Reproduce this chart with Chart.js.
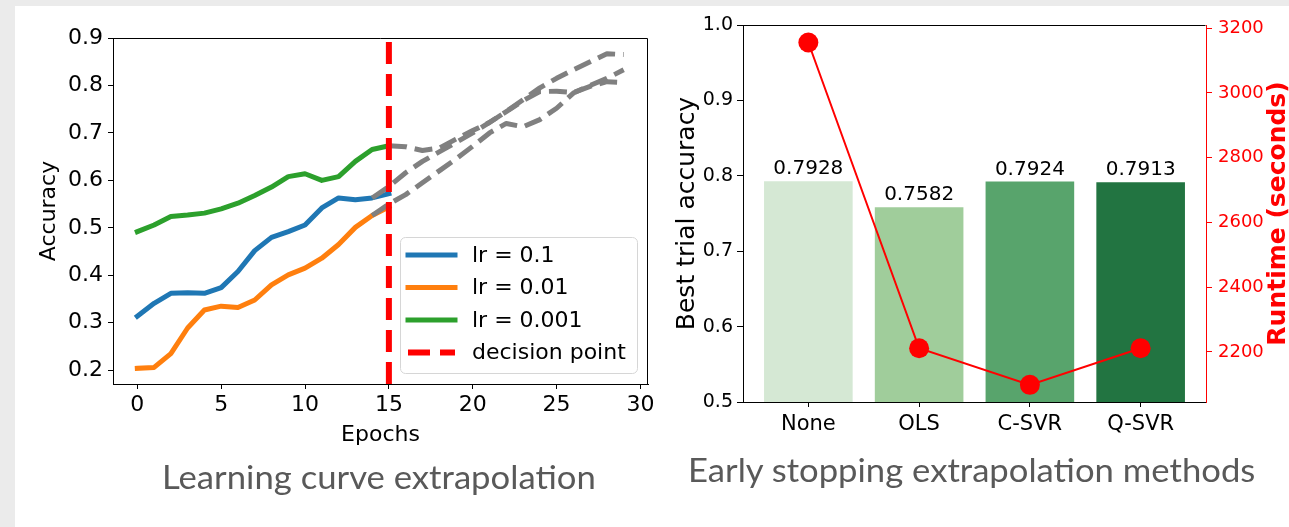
<!DOCTYPE html>
<html>
<head>
<meta charset="utf-8">
<script src="https://cdn.jsdelivr.net/npm/chart.js@4.4.1/dist/chart.umd.min.js"></script>
<style>
  html, body { margin: 0; padding: 0; background: #fff; }
  body { width: 1289px; height: 527px; position: relative; overflow: hidden; }
  #frameTop { position: absolute; left: 0; top: 0; width: 1289px; height: 6px; background: #ebebeb; }
  #frameLeft { position: absolute; left: 0; top: 0; width: 15px; height: 527px; background: #ebebeb; }
  #leftChart { position: absolute; left: 0; top: 0; }
  #rightChart { position: absolute; left: 660px; top: 0; }
  .caption { position: absolute; font-family: Lato, "Open Sans", sans-serif; color: #595959;
             font-size: 33px; white-space: nowrap; transform-origin: 0 0; line-height: 1; }
</style>
</head>
<body>
<div id="frameTop"></div>
<div id="frameLeft"></div>
<canvas id="leftChart" width="660" height="460"></canvas>
<canvas id="rightChart" width="640" height="460"></canvas>
<div class="caption" id="capLeft" data-w="434">Learning curve extrapolation</div>
<div class="caption" id="capRight" data-w="567">Early stopping extrapolation methods</div>

<script>
// ---- data: learning curves (left) ----
const epochs = [0, 1, 2, 3, 4, 5, 6, 7, 8, 9, 10, 11, 12, 13, 14, 15];
const accLr01 = [0.314, 0.341, 0.362, 0.363, 0.362, 0.374, 0.408, 0.452, 0.480, 0.492, 0.506, 0.542, 0.563, 0.559, 0.563, 0.572];
const accLr001 = [0.204, 0.206, 0.235, 0.289, 0.327, 0.335, 0.332, 0.348, 0.380, 0.401, 0.415, 0.436, 0.465, 0.501, 0.526, 0.544];
const accLr0001 = [0.492, 0.506, 0.524, 0.527, 0.531, 0.540, 0.552, 0.568, 0.586, 0.608, 0.614, 0.600, 0.608, 0.640, 0.665, 0.673];

// extrapolated curves (gray dashed)
const extEpochsA = [15, 16, 17, 18, 19, 20, 21, 22, 23, 24, 25, 26, 27, 28, 29];
const extLr0001 = [0.673, 0.671, 0.663, 0.668, 0.687, 0.705, 0.722, 0.745, 0.770, 0.795, 0.815, 0.833, 0.850, 0.867, 0.865];
const extEpochsB = [14, 15, 16, 17, 18, 19, 20, 21, 22, 23, 24, 25, 26, 27, 28, 29];
const extLr01 = [0.563, 0.587, 0.616, 0.640, 0.660, 0.680, 0.700, 0.722, 0.745, 0.768, 0.787, 0.788, 0.785, 0.798, 0.808, 0.806];
const extLr001 = [0.526, 0.550, 0.570, 0.595, 0.620, 0.645, 0.672, 0.700, 0.720, 0.713, 0.728, 0.752, 0.784, 0.800, 0.815, 0.833];

const decisionEpoch = 15;
const epochTicks = [0, 5, 10, 15, 20, 25, 30];
const accTicks = [0.2, 0.3, 0.4, 0.5, 0.6, 0.7, 0.8, 0.9];
const accMin = 0.171, accMax = 0.900;

// ---- data: extrapolation methods (right) ----
const methods = ['None', 'OLS', 'C-SVR', 'Q-SVR'];
const bestAcc = [0.7928, 0.7582, 0.7924, 0.7913];
const runtimeSec = [3156, 2211, 2098, 2211];
const bestAccTicks = [0.5, 0.6, 0.7, 0.8, 0.9, 1.0];
const runtimeTicks = [2200, 2400, 2600, 2800, 3000, 3200];
const barColors = ['#d5e8d4', '#a0cd9b', '#58a46c', '#227441'];

Chart.defaults.font.family = '"DejaVu Sans"';
Chart.defaults.color = '#000';

function pts(xs, ys) {
  return xs.map((x, i) => ({ x: x, y: ys[i] }));
}

// draws the top / right spines like matplotlib
const framePlugin = {
  id: 'frame',
  afterDraw(chart, args, opts) {
    const a = chart.chartArea;
    const ctx = chart.ctx;
    ctx.save();
    ctx.strokeStyle = '#000';
    ctx.lineWidth = 1;
    ctx.beginPath();
    const t = Math.round(a.top) + 0.5, r = Math.round(a.right) - 0.5;
    ctx.moveTo(Math.round(a.left), t);
    ctx.lineTo(r, t);
    if (opts.right) ctx.lineTo(r, Math.round(a.bottom));
    ctx.stroke();
    ctx.restore();
  }
};

// legend box in the lower right corner of the axes
const boxLegend = {
  id: 'boxLegend',
  afterDraw(chart) {
    const ctx = chart.ctx;
    const a = chart.chartArea;
    const items = chart.data.datasets.filter(d => d.label);
    const w = 237, h = 136;
    const x0 = a.right - 11 - w, y0 = a.bottom - 11 - h;
    ctx.save();
    ctx.beginPath();
    ctx.roundRect(x0 + 0.5, y0 + 0.5, w, h, 5);
    ctx.fillStyle = 'rgba(255,255,255,0.8)';
    ctx.fill();
    ctx.strokeStyle = '#d6d6d6';
    ctx.lineWidth = 1;
    ctx.stroke();
    items.forEach((d, i) => {
      const y = y0 + 18 + i * 32.5;
      ctx.beginPath();
      ctx.strokeStyle = d.borderColor;
      ctx.lineWidth = d.borderWidth;
      ctx.setLineDash(d.borderDash || []);
      ctx.lineCap = d.borderDash ? 'butt' : 'square';
      ctx.moveTo(x0 + 8, y);
      ctx.lineTo(x0 + 55, y);
      ctx.stroke();
      ctx.setLineDash([]);
      ctx.fillStyle = '#000';
      ctx.font = '22px "DejaVu Sans"';
      ctx.textBaseline = 'middle';
      ctx.fillText(d.label, x0 + 72, y + 1);
    });
    ctx.restore();
  }
};

function curve(label, xs, ys, color) {
  return {
    label: label, data: pts(xs, ys), borderColor: color, borderWidth: 5,
    pointRadius: 0, tension: 0, borderCapStyle: 'square', borderJoinStyle: 'round', order: 2
  };
}
function extCurve(xs, ys) {
  return {
    label: '', data: pts(xs, ys), borderColor: '#808080', borderWidth: 5, borderDash: [18, 8],
    pointRadius: 0, tension: 0, borderCapStyle: 'butt', borderJoinStyle: 'round', order: 1
  };
}

new Chart(document.getElementById('leftChart'), {
  type: 'line',
  data: {
    datasets: [
      curve('lr = 0.1', epochs, accLr01, '#1f77b4'),
      curve('lr = 0.01', epochs, accLr001, '#ff7f0e'),
      curve('lr = 0.001', epochs, accLr0001, '#2ca02c'),
      {
        label: 'decision point',
        data: [{ x: decisionEpoch, y: accMin }, { x: decisionEpoch, y: accMax }],
        borderColor: '#ff0000', borderWidth: 6, borderDash: [22, 10],
        pointRadius: 0, borderCapStyle: 'butt', order: 0
      },
      extCurve(extEpochsA, extLr0001),
      extCurve(extEpochsB, extLr01),
      extCurve(extEpochsB, extLr001)
    ]
  },
  options: {
    responsive: false,
    animation: false,
    layout: { padding: { top: 38, right: 12, left: 0, bottom: 0 } },
    plugins: { legend: { display: false }, tooltip: { enabled: false }, frame: { right: true } },
    scales: {
      x: {
        type: 'linear', min: -1.45, max: 30.45,
        afterBuildTicks: s => { s.ticks = epochTicks.map(v => ({ value: v })); },
        afterFit: s => { s.height = 76; },
        ticks: { font: { size: 22 }, color: '#000', padding: 3, maxRotation: 0, callback: v => String(v) },
        grid: { drawOnChartArea: false, tickLength: 5, color: '#000' },
        border: { color: '#000', width: 1 },
        title: { display: true, text: 'Epochs', font: { size: 22 }, color: '#000', padding: { top: 0, bottom: 12 } }
      },
      y: {
        type: 'linear', min: accMin, max: accMax,
        afterBuildTicks: s => { s.ticks = accTicks.map(v => ({ value: v })); },
        afterFit: s => { s.width = 113; },
        ticks: { font: { size: 22 }, color: '#000', padding: 5, callback: v => v.toFixed(1) },
        grid: { drawOnChartArea: false, tickLength: 5, color: '#000' },
        border: { color: '#000', width: 1 },
        title: { display: true, text: 'Accuracy', font: { size: 22 }, color: '#000', padding: { top: 36, bottom: 0 } }
      }
    }
  },
  plugins: [framePlugin, boxLegend]
});

// value labels above the bars
const barLabels = {
  id: 'barLabels',
  afterDatasetsDraw(chart) {
    const ctx = chart.ctx;
    const meta = chart.getDatasetMeta(0);
    ctx.save();
    ctx.font = '20px "DejaVu Sans"';
    ctx.fillStyle = '#000';
    ctx.textAlign = 'center';
    ctx.textBaseline = 'alphabetic';
    meta.data.forEach((bar, i) => {
      ctx.fillText(bestAcc[i].toFixed(4), bar.x, bar.y - 7);
    });
    ctx.restore();
  }
};

// right axis title reading bottom to top, as in matplotlib
const runtimeTitle = {
  id: 'runtimeTitle',
  afterDraw(chart) {
    const s = chart.scales.y2;
    const ctx = chart.ctx;
    ctx.save();
    ctx.translate(618, (s.top + s.bottom) / 2);
    ctx.rotate(-Math.PI / 2);
    ctx.font = 'bold 25px "DejaVu Sans"';
    ctx.fillStyle = '#ff0000';
    ctx.textAlign = 'center';
    ctx.textBaseline = 'middle';
    ctx.fillText('Runtime (seconds)', 0, 0);
    ctx.restore();
  }
};

const methodIdx = methods.map((m, i) => i);

new Chart(document.getElementById('rightChart'), {
  data: {
    datasets: [
      {
        type: 'bar', label: 'Best trial accuracy', data: pts(methodIdx, bestAcc),
        backgroundColor: barColors, barPercentage: 0.8, categoryPercentage: 1.0,
        yAxisID: 'y', order: 1
      },
      {
        type: 'line', label: 'Runtime', data: pts(methodIdx, runtimeSec),
        borderColor: '#ff0000', borderWidth: 2, pointRadius: 10, pointBackgroundColor: '#ff0000',
        pointBorderWidth: 0, tension: 0, yAxisID: 'y2', order: 0
      }
    ]
  },
  options: {
    responsive: false,
    animation: false,
    layout: { padding: { top: 25, right: 0, left: 0, bottom: 0 } },
    plugins: { legend: { display: false }, tooltip: { enabled: false }, frame: { right: false } },
    scales: {
      x: {
        type: 'linear', min: -0.59, max: 3.59, offset: false,
        afterBuildTicks: s => { s.ticks = methodIdx.map(v => ({ value: v })); },
        afterFit: s => { s.height = 58; },
        ticks: { font: { size: 21 }, color: '#000', padding: 5, maxRotation: 0, callback: v => methods[v] },
        grid: { drawOnChartArea: false, offset: false, tickLength: 5, color: '#000' },
        border: { color: '#000', width: 1 }
      },
      y: {
        type: 'linear', position: 'left', min: 0.5, max: 1.0,
        afterBuildTicks: s => { s.ticks = bestAccTicks.map(v => ({ value: v })); },
        afterFit: s => { s.width = 83; },
        ticks: { font: { size: 19 }, color: '#000', padding: 4, callback: v => v.toFixed(1) },
        grid: { drawOnChartArea: false, tickLength: 6, color: '#000' },
        border: { color: '#000', width: 1 },
        title: { display: true, text: 'Best trial accuracy', font: { size: 25 }, color: '#000', padding: { top: 12, bottom: 0 } }
      },
      y2: {
        type: 'linear', position: 'right', min: 2045, max: 3210,
        afterBuildTicks: s => { s.ticks = runtimeTicks.map(v => ({ value: v })); },
        afterFit: s => { s.width = 94; },
        ticks: { font: { size: 18 }, color: '#ff0000', padding: 6, callback: v => String(v) },
        grid: { drawOnChartArea: false, tickLength: 6, color: '#ff0000' },
        border: { color: '#ff0000', width: 1 }
      }
    }
  },
  plugins: [framePlugin, barLabels, runtimeTitle]
});

// captions: fit the text to the width it has in the slide
function placeCaption(id, left, top) {
  const el = document.getElementById(id);
  el.style.left = left + 'px';
  el.style.top = top + 'px';
  const k = Number(el.dataset.w) / el.offsetWidth;
  el.style.transform = 'scaleX(' + k + ')';
}
placeCaption('capLeft', 162, 460);
placeCaption('capRight', 688, 453);
</script>
</body>
</html>
